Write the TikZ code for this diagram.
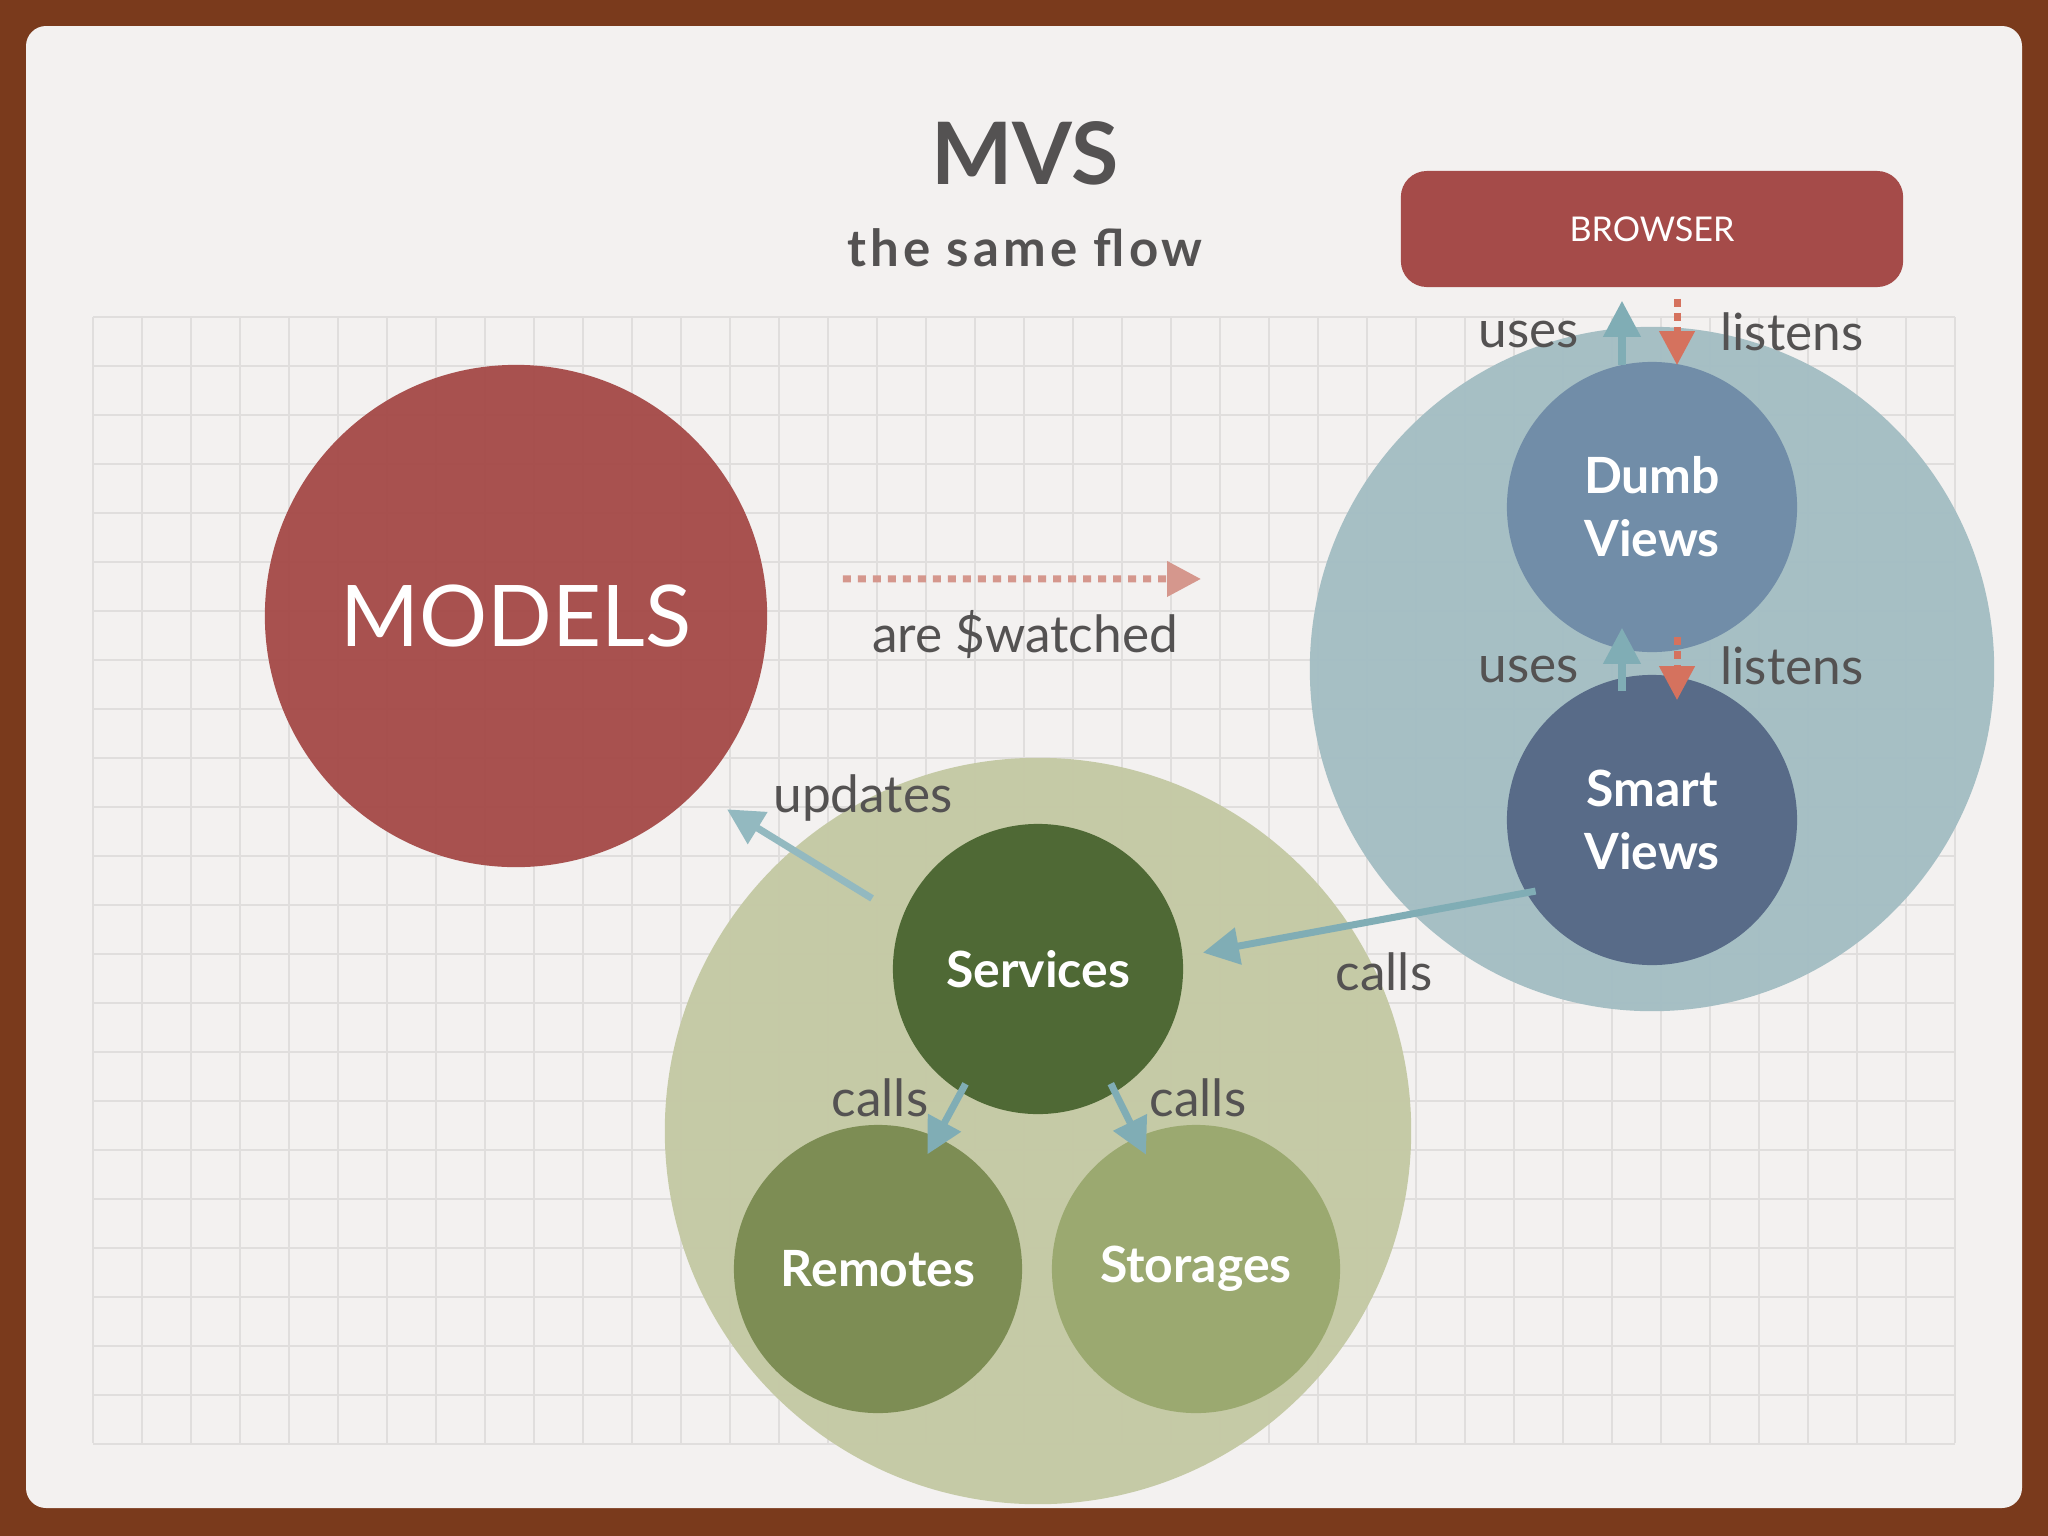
\documentclass[tikz,border=0pt]{standalone}
\usepackage{fontspec}
\setmainfont{Lato}
\usetikzlibrary{arrows.meta}

\definecolor{marco}{HTML}{7A3A1C}
\definecolor{papel}{HTML}{F3F1F0}
\definecolor{rejilla}{HTML}{E0DEDD}
\definecolor{rojo}{HTML}{A54B49}
\definecolor{azulfondo}{HTML}{A3BDC3}
\definecolor{azulclaro}{HTML}{6F8BA7}
\definecolor{azuloscuro}{HTML}{556886}
\definecolor{verdefondo}{HTML}{C4C9A4}
\definecolor{verdeoscuro}{HTML}{4B6631}
\definecolor{verdemedio}{HTML}{7B8B51}
\definecolor{verdeclaro}{HTML}{9AA86E}
\definecolor{flecha}{HTML}{80ADB5}
\definecolor{coral}{HTML}{D5725E}
\definecolor{rosa}{HTML}{D5978D}
\definecolor{texto}{HTML}{545252}

\begin{document}
\begin{tikzpicture}[
  x=0.01cm, y=-0.01cm,
  circulo/.style={circle, inner sep=0pt, fill opacity=0.96, text opacity=1, text=white, align=center},
  capa/.style={circulo, minimum size=#1},
  pieza/.style={circulo, minimum size=2.9cm, font=\bfseries\fontsize{14.2}{17.9}\selectfont},
  etiqueta/.style={text=texto, font=\fontsize{14.6}{18}\selectfont, inner sep=0pt},
  usa/.style={line width=0.07cm, draw=flecha, -{Triangle[length=0.36cm, width=0.36cm]}},
  escucha/.style={line width=0.07cm, draw=coral, dash pattern=on 0.08cm off 0.06cm, -{Triangle[length=0.34cm, width=0.34cm]}}
]
  \useasboundingbox (0,0) rectangle (2048,1536);

  % Marco y papel
  \fill[marco] (0,0) rectangle (2048,1536);
  \fill[papel, rounded corners=0.2cm] (26,26) rectangle (2022,1508);

  % Rejilla
  \foreach \i in {0,...,38} {
    \draw[rejilla, line width=0.4pt] (93+\i*49,317) -- (93+\i*49,1443);
  }
  \foreach \j in {0,...,23} {
    \draw[rejilla, line width=0.4pt] (93,317+\j*49) -- (1955,317+\j*49);
  }

  % Títulos
  \node[text=texto, font=\bfseries\fontsize{24.5}{30}\selectfont] (mvs) at (1025,153) {MVS};
  \node[text=texto, font=\bfseries\fontsize{14.5}{18}\selectfont\addfontfeature{LetterSpace=8}] (flujo) at (1025,248) {the same flow};

  % Nodos
  \node[fill=rojo, rounded corners=0.26cm, minimum width=5.02cm, minimum height=1.16cm, text=white,
        font=\fontsize{9.7}{12}\selectfont] (browser) at (1652,229) {BROWSER};
  \node[capa=5.02cm, fill=rojo, font=\fontsize{24.2}{30}\selectfont] (models) at (516,616) {MODELS};
  \node[capa=6.84cm, fill=azulfondo] (views) at (1652,669) {};
  \node[pieza, fill=azulclaro] (dumb) at (1652,507) {Dumb\\Views};
  \node[pieza, fill=azuloscuro] (smart) at (1652,820) {Smart\\Views};
  \node[capa=7.46cm, fill=verdefondo] (servicios) at (1038,1131) {};
  \node[pieza, fill=verdeoscuro] (services) at (1038,969) {Services};
  \node[pieza, fill=verdemedio, minimum size=2.88cm] (remotes) at (878,1269) {Remotes};
  \node[pieza, fill=verdeclaro, minimum size=2.88cm] (storages) at (1196,1269) {Storages};

  % Flechas
  \draw[usa] ([xshift=-0.3cm, yshift=-0.04cm]dumb.north) -- ([xshift=-0.3cm, yshift=-0.13cm]browser.south);
  \draw[escucha] ([xshift=0.25cm, yshift=-0.11cm]browser.south) -- ([xshift=0.25cm, yshift=-0.04cm]dumb.north);
  \draw[usa] ([xshift=-0.3cm, yshift=-0.17cm]smart.north) -- ([xshift=-0.3cm, yshift=0.25cm]dumb.south);
  \draw[escucha] ([xshift=0.25cm, yshift=0.16cm]dumb.south) -- ([xshift=0.25cm, yshift=-0.26cm]smart.north);
  \draw[escucha, draw=rosa, dash pattern=on 0.08cm off 0.07cm, shorten <=0.75cm, shorten >=1.08cm]
    ([yshift=0.37cm]models.east) -- ([yshift=0.9cm]views.west);
  \draw[usa, shorten <=-0.1cm, shorten >=0.2cm] (smart.210) -- (services.5);
  \draw[usa, draw=flecha!85, shorten <=0.35cm, shorten >=0.35cm] (services.159) -- (models.-44);
  \draw[usa, shorten <=-0.1cm, shorten >=-0.2cm] (services.238) -- (remotes.66);
  \draw[usa, shorten <=-0.1cm, shorten >=-0.2cm] (services.302) -- (storages.114);

  % Etiquetas
  \node[etiqueta] (usa1) at (1529,334) {uses};
  \node[etiqueta] (escucha1) at (1792,332) {listens};
  \node[etiqueta] (usa2) at (1529,669) {uses};
  \node[etiqueta] (escucha2) at (1792,666) {listens};
  \node[etiqueta] (vigila) at (1025,635) {are \$watched};
  \node[etiqueta] (actualiza) at (863,798) {updates};
  \node[etiqueta] (llama1) at (1384,972) {calls};
  \node[etiqueta] (llama2) at (880,1098) {calls};
  \node[etiqueta] (llama3) at (1198,1098) {calls};
\end{tikzpicture}
\end{document}
